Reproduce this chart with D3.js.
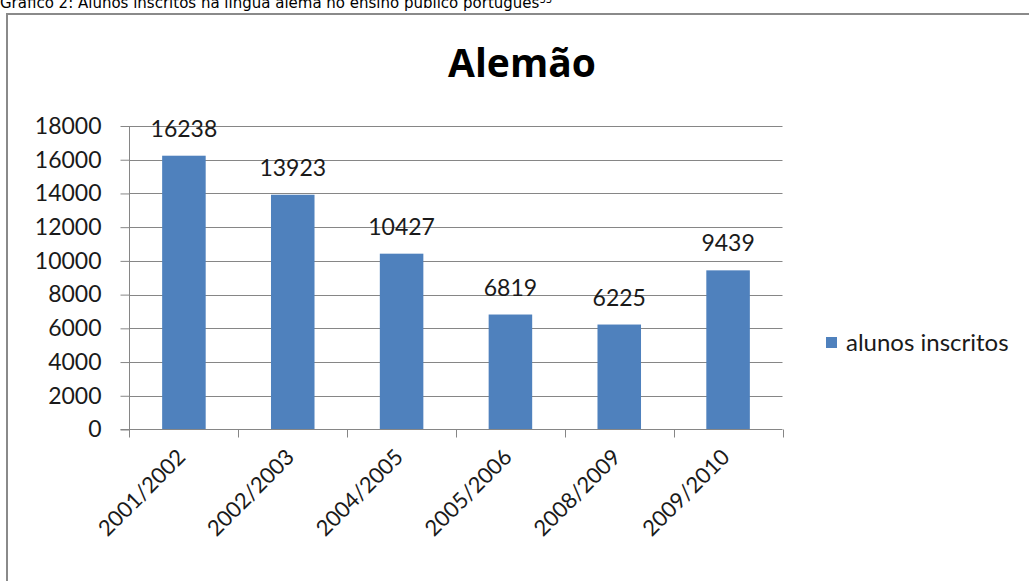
<!DOCTYPE html>
<html>
<head>
<meta charset="utf-8">
<script src="https://cdnjs.cloudflare.com/ajax/libs/d3/7.8.5/d3.min.js"></script>
<style>
  html, body { margin: 0; padding: 0; background: #fff; }
  svg { display: block; }
</style>
</head>
<body>
<svg id="chart" width="1029" height="581"></svg>
<script>
// School years and enrolled students
const anos = ["2001/2002", "2002/2003", "2004/2005", "2005/2006", "2008/2009", "2009/2010"];
const alunos = [16238, 13923, 10427, 6819, 6225, 9439];
const yTicks = [0, 2000, 4000, 6000, 8000, 10000, 12000, 14000, 16000, 18000];
const serieNome = "alunos inscritos";
const titulo = "Alemão";
const legenda = "Gráfico 2: Alunos inscritos na língua alemã no ensino público português";
const nota = "33";

const svg = d3.select("#chart");
const font = "Lato, 'Open Sans', sans-serif";
const gridColor = "#868686";
const barColor = "#4F81BD";
const rows = anos.map((a, i) => ({ ano: a, v: alunos[i] }));

// Caption above the chart frame
const cap = svg.append("text")
  .attr("x", 0).attr("y", 8)
  .attr("font-family", "'DejaVu Sans', sans-serif")
  .attr("font-size", 15)
  .attr("fill", "#000")
  .text(legenda);
cap.append("tspan")
  .attr("font-size", 10)
  .attr("dy", -5)
  .text(nota);

// Chart frame
svg.append("rect")
  .attr("x", 7).attr("y", 14)
  .attr("width", 1040).attr("height", 600)
  .attr("fill", "#fff")
  .attr("stroke", "#8a8a8a")
  .attr("stroke-width", 2);

// Title
svg.append("text")
  .attr("x", 522).attr("y", 77)
  .attr("text-anchor", "middle")
  .attr("font-family", "'Open Sans', Lato, sans-serif")
  .attr("font-weight", "bold")
  .attr("font-size", 39)
  .attr("fill", "#000")
  .text(titulo);

const plotLeft = 129.5, plotRight = 782.5, plotTop = 126, plotBottom = 429.5;

const x = d3.scaleBand()
  .domain(anos)
  .range([plotLeft, plotRight])
  .paddingInner(0.6)
  .paddingOuter(0.3);

const y = d3.scaleLinear()
  .domain([0, 18000])
  .range([plotBottom, plotTop]);

// Horizontal gridlines
svg.append("g")
  .selectAll("line")
  .data(yTicks.filter(d => d > 0))
  .join("line")
  .attr("x1", plotLeft).attr("x2", plotRight)
  .attr("y1", d => Math.round(y(d)) + 0.5)
  .attr("y2", d => Math.round(y(d)) + 0.5)
  .attr("stroke", gridColor)
  .attr("stroke-width", 1);

// Bars
svg.append("g")
  .selectAll("rect")
  .data(rows)
  .join("rect")
  .attr("x", d => x(d.ano))
  .attr("width", x.bandwidth())
  .attr("y", d => y(d.v))
  .attr("height", d => y(0) - y(d.v))
  .attr("fill", barColor);

// Value labels
svg.append("g")
  .selectAll("text")
  .data(rows)
  .join("text")
  .attr("x", d => x(d.ano) + x.bandwidth() / 2)
  .attr("y", d => y(d.v) - 19)
  .attr("text-anchor", "middle")
  .attr("font-family", font)
  .attr("font-size", 23)
  .attr("fill", "#1a1a1a")
  .text(d => d.v);

// Y axis
const yAxis = svg.append("g")
  .attr("transform", `translate(${plotLeft},0)`)
  .call(d3.axisLeft(y).tickValues(yTicks).tickSize(9).tickPadding(19).tickFormat(d3.format("d")));
yAxis.select(".domain").remove();
yAxis.selectAll(".tick line").attr("stroke", gridColor);
yAxis.selectAll(".tick text")
  .attr("font-family", font)
  .attr("font-size", 23)
  .attr("fill", "#1a1a1a");
svg.append("line")
  .attr("x1", plotLeft).attr("x2", plotLeft)
  .attr("y1", plotTop).attr("y2", plotBottom + 8)
  .attr("stroke", gridColor);

// X axis line and category boundary ticks
svg.append("line")
  .attr("x1", plotLeft - 9).attr("x2", plotRight)
  .attr("y1", plotBottom).attr("y2", plotBottom)
  .attr("stroke", gridColor);
const step = x.step();
const bounds = d3.range(anos.length + 1).map(i => plotLeft + i * step);
svg.append("g")
  .selectAll("line")
  .data(bounds.slice(1))
  .join("line")
  .attr("x1", d => Math.round(d) + 0.5).attr("x2", d => Math.round(d) + 0.5)
  .attr("y1", plotBottom).attr("y2", plotBottom + 8)
  .attr("stroke", gridColor);

// Rotated category labels
svg.append("g")
  .selectAll("text")
  .data(anos)
  .join("text")
  .attr("transform", d => `translate(${x(d) + x.bandwidth() / 2 - 8},${plotBottom + 18}) rotate(-45)`)
  .attr("text-anchor", "end")
  .attr("dy", "0.7em")
  .attr("font-family", font)
  .attr("font-size", 22)
  .attr("fill", "#1a1a1a")
  .text(d => d);

// Legend
const lg = svg.append("g").attr("transform", "translate(826,337)");
lg.append("rect").attr("width", 11).attr("height", 11).attr("fill", barColor);
lg.append("text")
  .attr("x", 20).attr("y", 14)
  .attr("font-family", font)
  .attr("font-size", 24)
  .attr("fill", "#1a1a1a")
  .text(serieNome);
</script>
</body>
</html>
